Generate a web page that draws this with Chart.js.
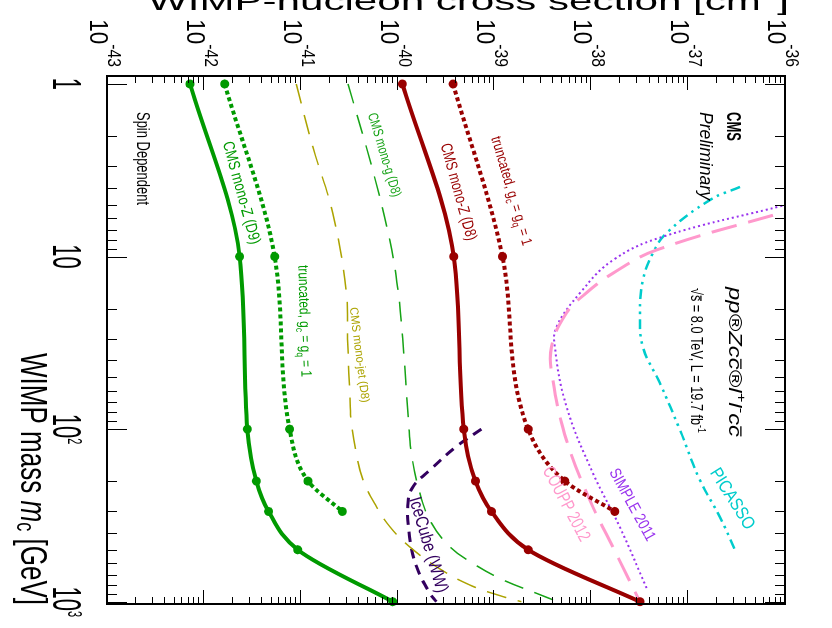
<!DOCTYPE html>
<html>
<head>
<meta charset="utf-8">
<title>WIMP-nucleon cross section, spin dependent</title>
<script src="https://cdn.jsdelivr.net/npm/chart.js@4.4.0/dist/chart.umd.min.js"></script>
<style>
  html, body { margin: 0; padding: 0; width: 832px; height: 628px; overflow: hidden; background: #fff; }
  /* the plot is drawn upright (mass along x) and then turned a quarter turn clockwise */
  #wrap { position: absolute; left: 0; top: 0; width: 628px; height: 832px;
          transform-origin: 0 0; transform: translate(832px, 0) rotate(90deg); }
</style>
</head>
<body>
<div id="wrap"><canvas id="plot" width="628" height="832"></canvas></div>
<script>
// ---- data (WIMP mass in GeV, cross section in cm^2) ----
const massPoints = [1, 10, 100, 200, 300, 500, 1000];
const monoZD9 = [7.2e-43, 2.34e-42, 2.81e-42, 3.48e-42, 4.66e-42, 9.3e-42, 8.9e-41];
const monoZD8 = [1.12e-40, 3.8e-40, 4.82e-40, 6.37e-40, 9.3e-40, 2.23e-39, 3.18e-38];

const truncMass = [1, 10, 100, 200, 300];
const truncD9 = [1.64e-42, 5.38e-42, 7.68e-42, 1.19e-41, 2.69e-41];
const truncD8 = [3.74e-40, 1.21e-39, 2.23e-39, 5.33e-39, 1.75e-38];

const monoJetMass = [1, 2.3, 5.6, 16, 30, 74, 92, 138, 197, 281, 367, 480, 627, 800, 935, 1000];
const monoJetXsec = [9.0e-42, 1.33e-41, 2.14e-41, 2.96e-41, 3.05e-41, 3.25e-41, 3.33e-41, 3.75e-41,
                     4.39e-41, 6.04e-41, 8.3e-41, 1.33e-40, 2.52e-40, 5.56e-40, 1.23e-39, 1.9e-39];

const monoPhotonMass = [1, 3.15, 8, 15, 30, 92, 138, 216, 336, 480, 600, 748, 894, 1000];
const monoPhotonXsec = [3.08e-41, 5.53e-41, 8.29e-41, 1.0e-40, 1.13e-40, 1.3e-40, 1.39e-40, 1.63e-40,
                        2.15e-40, 3.46e-40, 6.0e-40, 1.23e-39, 2.72e-39, 4.5e-39];

const iceCubeMass = [100, 126, 173, 216, 269, 420, 627, 894, 1000];
const iceCubeXsec = [7.35e-40, 4.05e-40, 2.15e-40, 1.44e-40, 1.28e-40, 1.33e-40, 1.57e-40, 2.15e-40, 2.52e-40];

const couppMass = [5, 5.5, 9.16, 12.5, 16.5, 21.2, 33.3, 51.9, 116, 258, 482, 1000];
const couppXsec = [1.8e-36, 1.0e-36, 4.72e-38, 1.67e-38, 8.6e-39, 5.55e-39, 3.88e-39, 4.01e-39, 5.55e-39, 9.66e-39, 1.67e-38, 3.18e-38];

const simpleMass = [4.5, 5.03, 7.67, 10.5, 16.3, 25.5, 33.3, 74.1, 180, 369, 833];
const simpleXsec = [2.1e-36, 1.0e-36, 5.48e-38, 1.67e-38, 7.62e-39, 4.38e-39, 4.2e-39, 5.55e-39, 1.04e-38, 1.97e-38, 3.72e-38];

const picassoMass = [3.95, 4.7, 7.3, 9.53, 13.7, 21.2, 33.4, 54, 101, 197, 323, 501];
const picassoXsec = [3.43e-37, 1.68e-37, 5.99e-38, 4.33e-38, 3.41e-38, 3.18e-38, 3.41e-38, 5.1e-38, 8.22e-38, 1.32e-37, 2.13e-37, 3.04e-37];

const massTicks = [1, 10, 100, 1000];
const massTickLabels = ['1', '10', '10^{2}', '10^{3}'];
const xsecTicks = [1e-43, 1e-42, 1e-41, 1e-40, 1e-39, 1e-38, 1e-37, 1e-36];
const xsecTickLabels = ['10^{-43}', '10^{-42}', '10^{-41}', '10^{-40}', '10^{-39}', '10^{-38}', '10^{-37}', '10^{-36}'];

// ---- colours ----
const GREEN = '#009a00';
const DKRED = '#990000';
const OLIVE = '#aca300';
const LTGREEN = '#16a316';
const ICE = '#33005f';
const PINK = '#ff99cc';
const VIOLET = '#9933ee';
const CYAN = '#00cccc';

const FONT = '"Liberation Sans", Arial, Helvetica, sans-serif';

function pts(xs, ys) {
  return xs.map((m, i) => ({ x: m, y: ys[i] }));
}

function curve(xs, ys, color, width, dash, marker) {
  return {
    data: pts(xs, ys),
    borderColor: color,
    backgroundColor: color,
    borderWidth: width,
    borderDash: dash || [],
    borderCapStyle: 'butt',
    // limits with markers: monotone through the points; the others: plain smooth curve
    cubicInterpolationMode: marker ? 'monotone' : 'default',
    tension: 0.4,
    pointRadius: marker ? 4.5 : 0,
    pointBorderWidth: 0,
    pointBackgroundColor: color,
    fill: false,
    clip: marker ? 6 : 0
  };
}

// tiny markup: ^{..} superscript, _{..} subscript, ~{..} overline, *{..} italic
function parseMarkup(str) {
  const out = [];
  const re = /([_^~*])\{([^}]*)\}|([^_^~*]+)/g;
  let m;
  while ((m = re.exec(str))) {
    if (m[3]) out.push({ t: m[3], k: '' });
    else out.push({ t: m[2], k: m[1] });
  }
  return out;
}

function drawText(ctx, str, o) {
  const size = o.size;
  const supSize = size * (o.supScale || 0.7);
  const parts = parseMarkup(str).map(p => {
    let s = size, dy = 0, it = o.italic;
    if (p.k === '^') { s = supSize; dy = -size * (o.supRise || 0.42); }
    if (p.k === '_') { s = supSize; dy = size * (o.subDrop || 0.22); }
    if (p.k === '*') it = true;
    return { t: p.t, k: p.k, dy: dy,
             font: (it ? 'italic ' : '') + (o.bold ? 'bold ' : '') + s + 'px ' + FONT };
  });
  ctx.save();
  ctx.translate(o.x, o.y);
  ctx.rotate((o.rot || 0) * Math.PI / 180);
  let w = 0;
  parts.forEach(p => { ctx.font = p.font; p.w = ctx.measureText(p.t).width; w += p.w; });
  const sx = o.len ? o.len / w : (o.sx || 1);
  ctx.scale(sx, 1);
  let x = o.align === 'right' ? -w : (o.align === 'center' ? -w / 2 : 0);
  ctx.fillStyle = o.color || '#000';
  ctx.textAlign = 'left';
  ctx.textBaseline = o.baseline || 'alphabetic';
  parts.forEach(p => {
    ctx.font = p.font;
    ctx.fillText(p.t, x, p.dy);
    if (p.k === '~') ctx.fillRect(x + p.w * 0.1, p.dy - size * 0.66, p.w * 0.85, 1.3);
    x += p.w;
  });
  ctx.restore();
}

// free text on the plot, in canvas pixels of the upright chart
const notes = [
  { t: 'Spin Dependent', x: 112, y: 695, size: 18, len: 93 },
  { t: 'CMS', x: 112, y: 105, size: 21, len: 29, bold: true },
  { t: 'Preliminary', x: 112, y: 132, size: 18, len: 88, italic: true },
  { t: 'pp®Zc~{c}®l^{+}l^{-}c~{c}', x: 287, y: 103, size: 19, len: 150, italic: true },
  { t: '√~{s} = 8.0 TeV, L = 19.7 fb^{-1}', x: 288, y: 141, size: 16, len: 145 },
  { t: 'CMS mono-Z (D9)', x: 193, y: 591, rot: -15.4, size: 16, len: 106, color: GREEN },
  { t: 'truncated, g_{c} = g_{q} = 1', x: 321, y: 528, rot: -1.6, size: 15, len: 112, color: GREEN, subDrop: 0.35 },
  { t: 'CMS mono-g (D8)', x: 155, y: 448, rot: -16.6, size: 14, len: 87, color: LTGREEN },
  { t: 'CMS mono-jet (D8)', x: 355, y: 473, rot: -7.2, size: 12, len: 96, color: OLIVE },
  { t: 'CMS mono-Z (D8)', x: 192, y: 374, rot: -15.4, size: 16, len: 100, color: DKRED },
  { t: 'truncated, g_{c} = g_{q} = 1', x: 191, y: 321, rot: -16.4, size: 15, len: 113, color: DKRED, subDrop: 0.35 },
  { t: 'IceCube (WW)', x: 545, y: 404, rot: -16.6, size: 18, len: 99, color: ICE },
  { t: 'COUPP 2012', x: 504, y: 266, rot: -28, size: 18, len: 82, color: PINK },
  { t: 'SIMPLE 2011', x: 505, y: 200, rot: -28.7, size: 16, len: 80, color: VIOLET },
  { t: 'PICASSO', x: 499, y: 100, rot: -32.2, size: 18, len: 69, color: CYAN }
];

const frameAndText = {
  id: 'frameAndText',
  afterDatasetsDraw(chart) {
    const ctx = chart.ctx;
    const a = chart.chartArea;
    const xs = chart.scales.x, ys = chart.scales.y;
    ctx.save();
    ctx.strokeStyle = '#000';
    ctx.lineWidth = 1;
    ctx.beginPath();
    // mass axis ticks, bottom and top edges
    for (let e = -1; e <= 3; e++) {
      for (let d = 1; d <= 9; d++) {
        const v = d * Math.pow(10, e);
        if (v <= xs.min * 1.001 || v > xs.max) continue;
        const px = Math.round(xs.getPixelForValue(v)) + 0.5;
        const len = d === 1 ? 20 : 10;
        ctx.moveTo(px, a.bottom); ctx.lineTo(px, a.bottom - len);
        ctx.moveTo(px, a.top); ctx.lineTo(px, a.top + len);
      }
    }
    // cross-section axis ticks, left and right edges
    for (let e = -43; e <= -36; e++) {
      for (let d = 1; d <= 9; d++) {
        const v = d * Math.pow(10, e);
        if (v > ys.max * 1.001) continue;
        const py = Math.round(ys.getPixelForValue(v)) + 0.5;
        const len = d === 1 ? 14 : 7;
        ctx.moveTo(a.left, py); ctx.lineTo(a.left + len, py);
        ctx.moveTo(a.right, py); ctx.lineTo(a.right - len, py);
      }
    }
    ctx.stroke();
    ctx.lineWidth = 2;
    ctx.strokeRect(a.left, a.top, a.right - a.left, a.bottom - a.top);
    ctx.restore();

    // tick labels
    xsecTicks.forEach((v, i) => {
      drawText(ctx, xsecTickLabels[i], { x: 67, y: ys.getPixelForValue(v) + 17, size: 25,
        supScale: 0.7, supRise: 0.72, sx: 0.9, align: 'right' });
    });
    massTicks.forEach((v, i) => {
      drawText(ctx, massTickLabels[i], { x: xs.getPixelForValue(v), y: 779, size: 40,
        supScale: 0.5, supRise: 0.37, sx: 0.55, align: 'center' });
    });

    // axis titles (the left one runs off the top of the picture)
    drawText(ctx, 'WIMP-nucleon cross section [cm^{2}]', { x: 10, y: 43, rot: -90, size: 26, len: 641, align: 'right' });
    drawText(ctx, 'WIMP mass *{m}_{c} [GeV]', { x: 605, y: 811, size: 37, len: 252, align: 'right', subDrop: 0.1 });

    notes.forEach(n => {
      const o = Object.assign({}, n);
      if (n.rot !== undefined) { o.align = 'center'; o.baseline = 'middle'; }
      drawText(ctx, n.t, o);
    });
  }
};

new Chart(document.getElementById('plot'), {
  type: 'line',
  data: {
    datasets: [
      curve(massPoints, monoZD9, GREEN, 4, null, true),
      curve(truncMass, truncD9, GREEN, 4, [4, 3], true),
      curve(massPoints, monoZD8, DKRED, 4, null, true),
      curve(truncMass, truncD8, DKRED, 4, [4, 3], true),
      curve(monoJetMass, monoJetXsec, OLIVE, 1.5, [20, 12]),
      curve(monoPhotonMass, monoPhotonXsec, LTGREEN, 1.5, [20, 12]),
      curve(iceCubeMass, iceCubeXsec, ICE, 3, [10, 7]),
      curve(couppMass, couppXsec, PINK, 3, [26, 12]),
      curve(simpleMass, simpleXsec, VIOLET, 2, [2, 3]),
      curve(picassoMass, picassoXsec, CYAN, 2.5, [10, 5, 2.5, 5, 2.5, 5])
    ]
  },
  options: {
    responsive: false,
    animation: false,
    devicePixelRatio: 1,
    elements: { line: { capBezierPoints: false } },
    layout: { padding: { top: 47, right: 24, left: 0, bottom: 0 } },
    plugins: { legend: { display: false }, tooltip: { enabled: false } },
    scales: {
      x: {
        type: 'logarithmic', min: 0.899, max: 1031, bounds: 'data',
        grid: { display: false }, border: { display: false }, ticks: { display: false },
        afterFit: s => { s.height = 107; }
      },
      y: {
        type: 'logarithmic', min: 1e-43, max: 1e-36, bounds: 'data',
        grid: { display: false }, border: { display: false }, ticks: { display: false },
        afterFit: s => { s.width = 76; }
      }
    }
  },
  plugins: [frameAndText]
});
</script>
</body>
</html>
